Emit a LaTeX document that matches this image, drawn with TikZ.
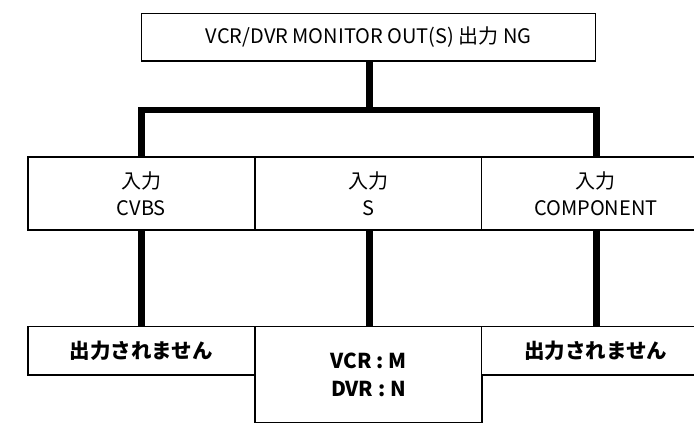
\documentclass[tikz,border=0pt]{standalone}
\usepackage{fontspec}
\setmainfont{Noto Sans CJK JP}
\begin{document}
\begin{tikzpicture}[x=1pt,y=1pt,
  box/.style={draw=black,line width=1.5pt,inner sep=0pt,align=center,fill=white},
  conn/.style={draw=black,line width=6.5pt,line join=miter},
  topfont/.style={font=\fontsize{20}{24}\selectfont},
  midfont/.style={font=\fontsize{20}{27}\selectfont},
  botfont/.style={font=\bfseries\fontsize{20.5}{28}\selectfont}]
\useasboundingbox (0,0) rectangle (694,423);
\clip (0,0) rectangle (694,423);
% top
\node[box,topfont,minimum width=454pt,minimum height=47.7pt] (top) at (368.7,385.85) {VCR/DVR MONITOR OUT(S) 出力 NG};
% middle row
\node[box,midfont,minimum width=227.3pt,minimum height=73pt] (m1) at (141.4,229.5) {入力\\CVBS};
\node[box,midfont,minimum width=226.7pt,minimum height=73pt] (m2) at (368.4,229.5) {入力\\S};
\node[box,midfont,minimum width=228.3pt,minimum height=73pt] (m3) at (595.85,229.5) {入力\\COMPONENT};
% bottom row
\node[box,botfont,minimum width=227.3pt,minimum height=48.3pt] (b1) at (141.4,72.15) {出力されません};
\node[box,botfont,minimum width=226.7pt,minimum height=95.6pt] (b2) at (368.4,48.5) {VCR : M\\DVR : N};
\node[box,botfont,minimum width=228.3pt,minimum height=48.3pt] (b3) at (595.85,72.15) {出力されません};
% connectors
\coordinate (j) at (369.3,313);
\draw[conn] (top.south -| j) -- (j);
\draw[conn] (m1.north -| 141.7,0) |- (j) -| (m3.north -| 596.5,0);
\draw[conn] (m1.south -| 141.7,0) -- (b1.north -| 141.7,0);
\draw[conn] (m2.south -| 369.3,0) -- (b2.north -| 369.3,0);
\draw[conn] (m3.south -| 596.5,0) -- (b3.north -| 596.5,0);
\end{tikzpicture}
\end{document}
